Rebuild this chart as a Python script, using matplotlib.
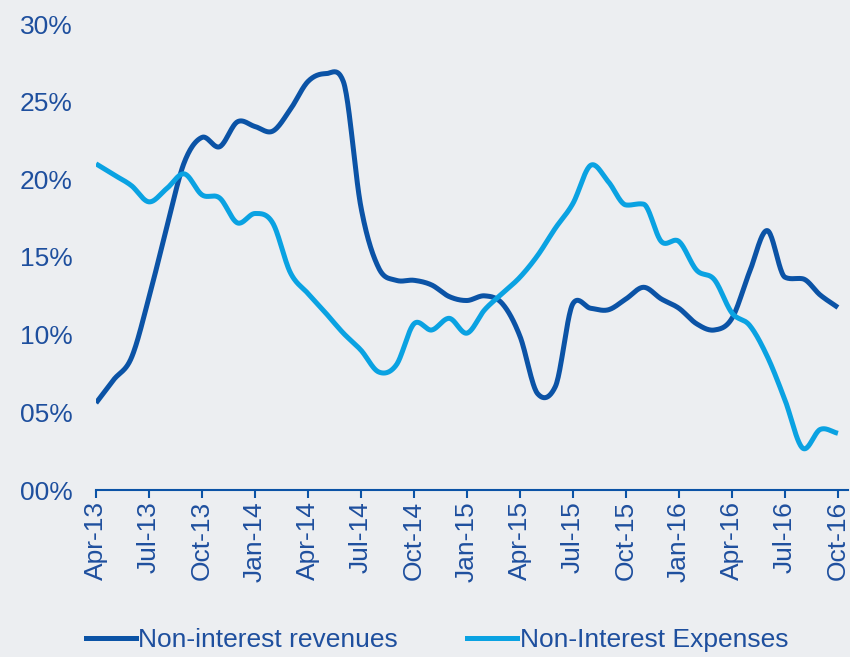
import numpy as np
import matplotlib
matplotlib.use("Agg")
import matplotlib.pyplot as plt
from matplotlib.lines import Line2D

# monthly data, Apr-13 .. Oct-16 (percent)
months = ["Apr-13", "May-13", "Jun-13", "Jul-13", "Aug-13", "Sep-13",
          "Oct-13", "Nov-13", "Dec-13", "Jan-14", "Feb-14", "Mar-14",
          "Apr-14", "May-14", "Jun-14", "Jul-14", "Aug-14", "Sep-14",
          "Oct-14", "Nov-14", "Dec-14", "Jan-15", "Feb-15", "Mar-15",
          "Apr-15", "May-15", "Jun-15", "Jul-15", "Aug-15", "Sep-15",
          "Oct-15", "Nov-15", "Dec-15", "Jan-16", "Feb-16", "Mar-16",
          "Apr-16", "May-16", "Jun-16", "Jul-16", "Aug-16", "Sep-16",
          "Oct-16"]

revenues = [5.6, 7.1, 8.5, 12.4, 16.9, 21.1,
            22.7, 22.1, 23.7, 23.4, 23.1, 24.5,
            26.3, 26.8, 26.3, 18.2, 14.3, 13.5,
            13.5, 13.2, 12.45, 12.2, 12.5, 12.0,
            9.9, 6.2, 6.65, 12.0, 11.7, 11.6,
            12.3, 13.05, 12.3, 11.7, 10.7, 10.3,
            11.05, 14.05, 16.7, 13.7, 13.6, 12.55,
            11.75]

expenses = [21.0, 20.3, 19.6, 18.55, 19.4, 20.35,
            19.0, 18.8, 17.2, 17.8, 17.2, 14.0,
            12.65, 11.4, 10.1, 9.0, 7.6, 8.05,
            10.7, 10.3, 11.05, 10.1, 11.6, 12.65,
            13.7, 15.1, 16.85, 18.45, 20.9, 19.85,
            18.35, 18.4, 16.0, 16.0, 14.15, 13.55,
            11.4, 10.6, 8.6, 5.8, 2.7, 3.9,
            3.65]

yticks = [0, 5, 10, 15, 20, 25, 30]


def smooth(vals, n=24, lim=6.0):
    # cubic hermite through the monthly points, catmull-rom tangents,
    # only clipped where a segment would bulge a lot
    y = np.asarray(vals, float)
    d = np.diff(y)
    m = np.empty_like(y)
    m[1:-1] = (y[2:] - y[:-2]) / 2
    m[0] = d[0]
    m[-1] = d[-1]
    for k in range(len(d)):
        if abs(d[k]) < 1e-9:
            continue
        a = m[k] / d[k]
        b = m[k + 1] / d[k]
        r = np.sqrt(a * a + b * b)
        if r > lim:
            m[k] = lim / r * a * d[k]
            m[k + 1] = lim / r * b * d[k]
    t = np.linspace(0, 1, n, endpoint=False)
    h00 = 2 * t ** 3 - 3 * t ** 2 + 1
    h10 = t ** 3 - 2 * t ** 2 + t
    h01 = -2 * t ** 3 + 3 * t ** 2
    h11 = t ** 3 - t ** 2
    xs, ys = [], []
    for k in range(len(d)):
        xs.append(k + t)
        ys.append(h00 * y[k] + h10 * m[k] + h01 * y[k + 1] + h11 * m[k + 1])
    xs.append([len(y) - 1])
    ys.append([y[-1]])
    return np.concatenate(xs), np.concatenate(ys)


bg = "#ECEEF1"
dark = "#0B53A6"
light = "#0AA2E2"
txt = "#1E4F9E"

plt.rcParams["font.family"] = ["Liberation Sans", "DejaVu Sans"]

fig = plt.figure(figsize=(8.5, 6.57), dpi=100, facecolor=bg)
ax = fig.add_axes([96 / 850, 167 / 657, 752 / 850, 466 / 657], facecolor=bg)

x1, y1 = smooth(revenues)
x2, y2 = smooth(expenses)
ax.plot(x1, y1, color=dark, lw=3.6, solid_capstyle="butt")
ax.plot(x2, y2, color=light, lw=3.6, solid_capstyle="butt")

ax.set_xlim(0, 42.57)
ax.set_ylim(0, 30)

tick_pos = list(range(0, len(months), 3))
ax.set_xticks(tick_pos)
ax.set_xticklabels([months[i] for i in tick_pos], rotation=90,
                   fontsize=19, color=txt, va="top", ha="center")
ax.tick_params(axis="x", length=6, width=1.5, color=dark, pad=2)

ax.set_yticks(yticks)
ax.set_yticklabels(["%02d%%" % v for v in yticks], fontsize=19, color=txt)
ax.tick_params(axis="y", length=0, pad=17)

for s in ["top", "right", "left"]:
    ax.spines[s].set_visible(False)
ax.spines["bottom"].set_color(dark)
ax.spines["bottom"].set_linewidth(1.5)

handles = [Line2D([], [], color=dark, lw=3.6),
           Line2D([], [], color=light, lw=3.6)]
leg = fig.legend(handles, ["Non-interest revenues", "Non-Interest Expenses"],
                 loc="center", bbox_to_anchor=(0.514, 0.026), ncol=2,
                 frameon=False, fontsize=19, handlelength=1.9,
                 handletextpad=0.1, columnspacing=2.6)
for t in leg.get_texts():
    t.set_color(txt)

fig.savefig("out.png", dpi=100, facecolor=bg)
